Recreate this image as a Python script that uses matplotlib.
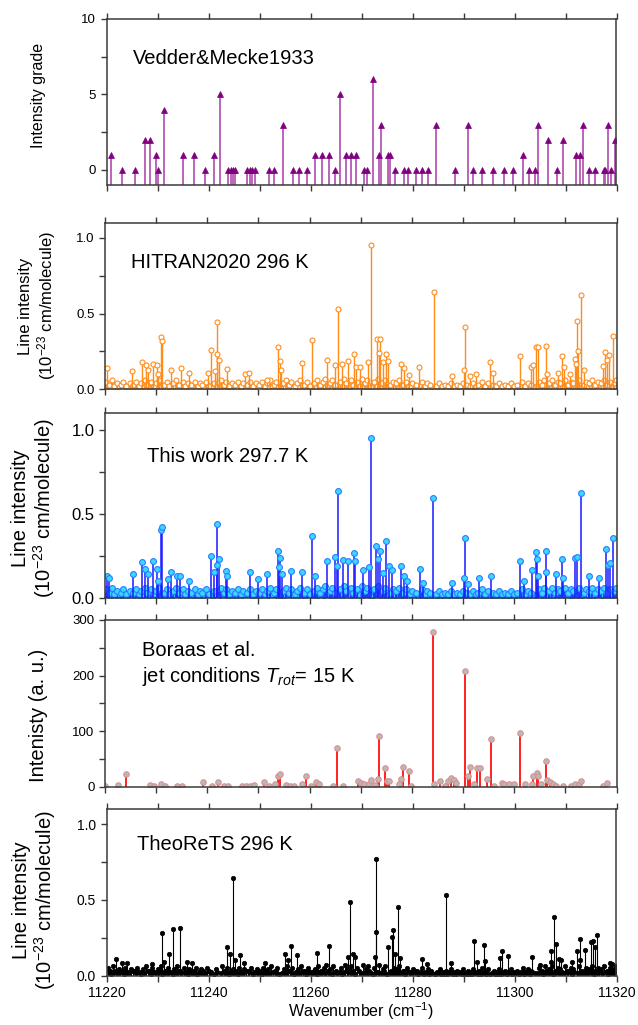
import matplotlib
matplotlib.use('Agg')
import matplotlib.pyplot as plt
from matplotlib.ticker import MultipleLocator, FormatStrFormatter

plt.rcParams['font.family'] = ['Liberation Sans', 'DejaVu Sans']
plt.rcParams['mathtext.fontset'] = 'custom'
plt.rcParams['mathtext.rm'] = 'Liberation Sans'
plt.rcParams['mathtext.it'] = 'Liberation Sans:italic'

# ---- Vedder & Mecke 1933: line positions and visual intensity grades
vm_wn = [11220.9, 11223.0, 11225.6, 11227.5, 11228.5, 11229.7, 11230.1, 11231.3,
         11235.0, 11237.2, 11239.3, 11241.1, 11242.3, 11243.9, 11244.5, 11244.9,
         11245.2, 11247.5, 11248.1, 11248.6, 11249.2, 11251.8, 11252.8, 11254.6,
         11256.6, 11257.8, 11259.3, 11260.8, 11262.2, 11263.7, 11264.9, 11265.8,
         11266.9, 11267.9, 11269.0, 11270.4, 11271.0, 11272.3, 11273.5, 11273.9,
         11275.2, 11275.6, 11276.5, 11278.3, 11279.1, 11280.6, 11281.8, 11283.1,
         11284.6, 11288.3, 11290.8, 11291.8, 11293.6, 11295.8, 11297.9, 11299.7,
         11301.6, 11302.8, 11304.0, 11304.7, 11306.5, 11308.3, 11309.5, 11312.0,
         11312.8, 11313.4, 11314.6, 11315.7, 11317.5, 11317.8, 11318.3, 11318.9,
         11319.8]
vm_grade = [1, 0, 0, 2, 2, 1, 0, 4,
            1, 1, 0, 1, 5, 0, 0, 0,
            0, 0, 0, 0, 0, 0, 0, 3,
            0, 0, 0, 1, 1, 1, 0, 5,
            1, 1, 1, 0, 0, 6, 1, 3,
            1, 1, 0, 0, 0, 0, 0, 0,
            3, 0, 3, 0, 0, 0, 0, 0,
            1, 0, 0, 3, 2, 0, 2, 1,
            1, 3, 0, 0, 0, 0, 3, 0,
            2]

# ---- weak lines common to the line lists (1e-23 cm/molecule)
weak_wn = [11220.2, 11220.7, 11221.3, 11221.8, 11222.4, 11223.1, 11223.6, 11224.2, 11224.9, 11225.5,
           11226.0, 11226.7, 11227.1, 11227.8, 11228.3, 11228.9, 11229.5, 11230.0, 11230.6, 11231.5,
           11232.1, 11232.6, 11233.3, 11233.8, 11234.4, 11235.2, 11235.7, 11236.2, 11236.9, 11237.5,
           11238.1, 11238.6, 11239.0, 11239.7, 11240.3, 11241.4, 11242.7, 11243.2, 11243.7, 11244.3,
           11244.8, 11245.4, 11246.0, 11246.6, 11247.0, 11247.7, 11248.4, 11248.9, 11249.5, 11250.1,
           11250.7, 11251.2, 11251.6, 11252.3, 11253.0, 11253.5, 11254.8, 11255.3, 11255.9, 11256.4,
           11257.1, 11257.6, 11258.1, 11258.9, 11259.5, 11260.0, 11260.9, 11261.5, 11262.0, 11262.6,
           11263.1, 11263.9, 11264.4, 11265.0, 11266.0, 11266.8, 11267.2, 11268.0, 11268.4, 11269.2,
           11270.2, 11270.8, 11271.2, 11272.5, 11273.4, 11274.2, 11274.7, 11275.8, 11276.3, 11276.9,
           11277.4, 11278.3, 11278.9, 11279.6, 11280.1, 11280.8, 11281.9, 11282.5, 11283.0, 11283.6,
           11284.8, 11285.3, 11285.9, 11286.5, 11287.0, 11287.6, 11288.2, 11288.8, 11289.4, 11289.9,
           11290.8, 11291.3, 11291.9, 11292.5, 11293.0, 11293.7, 11294.2, 11294.8, 11295.9, 11296.4,
           11297.0, 11297.6, 11298.2, 11298.7, 11299.3, 11299.9, 11300.5, 11301.6, 11302.1, 11302.7,
           11303.2, 11304.8, 11305.4, 11305.9, 11306.8, 11307.3, 11307.9, 11308.5, 11309.0, 11309.9,
           11310.5, 11311.1, 11311.5, 11312.7, 11313.6, 11314.1, 11314.7, 11315.2, 11315.8, 11316.3,
           11316.9, 11317.6, 11318.1, 11318.8, 11319.5, 11319.9]
weak_s = [0.05, 0.03, 0.06, 0.02, 0.04, 0.03, 0.05, 0.02, 0.04, 0.03,
          0.05, 0.02, 0.04, 0.06, 0.03, 0.05, 0.02, 0.04, 0.06, 0.03,
          0.05, 0.02, 0.04, 0.06, 0.03, 0.05, 0.02, 0.04, 0.03, 0.05,
          0.02, 0.04, 0.03, 0.05, 0.02, 0.04, 0.06, 0.03, 0.05, 0.02,
          0.04, 0.03, 0.05, 0.02, 0.04, 0.03, 0.05, 0.02, 0.04, 0.03,
          0.05, 0.02, 0.04, 0.06, 0.03, 0.05, 0.04, 0.06, 0.03, 0.05,
          0.02, 0.04, 0.06, 0.03, 0.05, 0.02, 0.04, 0.06, 0.03, 0.05,
          0.07, 0.04, 0.06, 0.03, 0.05, 0.07, 0.04, 0.06, 0.03, 0.05,
          0.07, 0.04, 0.06, 0.05, 0.07, 0.04, 0.06, 0.03, 0.05, 0.04,
          0.06, 0.03, 0.05, 0.02, 0.04, 0.03, 0.05, 0.02, 0.04, 0.03,
          0.02, 0.04, 0.02, 0.03, 0.02, 0.04, 0.02, 0.03, 0.02, 0.04,
          0.03, 0.02, 0.04, 0.02, 0.03, 0.05, 0.02, 0.04, 0.03, 0.02,
          0.04, 0.02, 0.03, 0.02, 0.04, 0.02, 0.03, 0.05, 0.02, 0.04,
          0.03, 0.05, 0.03, 0.06, 0.04, 0.06, 0.03, 0.05, 0.04, 0.06,
          0.03, 0.05, 0.04, 0.06, 0.03, 0.05, 0.04, 0.06, 0.03, 0.05,
          0.04, 0.06, 0.03, 0.05, 0.04, 0.06]

# ---- very weak lines filling the baseline
vweak_wn = [11220.45, 11220.95, 11221.55, 11222.1, 11222.7, 11223.35, 11223.85, 11224.5, 11225.15, 11225.75,
            11226.3, 11226.85, 11227.45, 11228.05, 11228.65, 11229.2, 11229.75, 11230.35, 11230.8, 11231.4,
            11231.85, 11232.35, 11232.95, 11233.55, 11234.1, 11234.65, 11235.45, 11235.95, 11236.6, 11237.2,
            11237.8, 11238.35, 11238.85, 11239.4, 11240.0, 11240.55, 11241.1, 11241.7, 11242.45, 11242.95,
            11243.45, 11244.05, 11244.6, 11245.15, 11245.7, 11246.3, 11246.85, 11247.4, 11248.0, 11248.65,
            11249.2, 11249.8, 11250.4, 11250.95, 11251.45, 11251.95, 11252.6, 11253.25, 11253.8, 11254.4,
            11255.05, 11255.6, 11256.15, 11256.7, 11257.35, 11257.85, 11258.45, 11259.1, 11259.75, 11260.3,
            11260.65, 11261.25, 11261.8, 11262.3, 11262.85, 11263.5, 11264.15, 11264.7, 11265.25, 11265.75,
            11266.25, 11266.6, 11267.45, 11267.85, 11268.2, 11268.75, 11269.45, 11269.95, 11270.5, 11271.0,
            11271.45, 11271.8, 11272.25, 11272.8, 11273.2, 11273.85, 11274.45, 11274.95, 11275.6, 11276.05,
            11276.6, 11277.15, 11277.65, 11278.05, 11278.6, 11279.25, 11279.85, 11280.45, 11281.1, 11281.6,
            11282.2, 11282.75, 11283.3, 11283.85, 11284.5, 11285.05, 11285.6, 11286.2, 11286.75, 11287.3,
            11287.85, 11288.5, 11289.1, 11289.65, 11290.25, 11290.55, 11291.05, 11291.6, 11292.2, 11292.75,
            11293.35, 11293.95, 11294.5, 11295.1, 11295.6, 11296.15, 11296.7, 11297.3, 11297.9, 11298.45,
            11299.0, 11299.6, 11300.2, 11300.8, 11301.35, 11301.85, 11302.4, 11302.95, 11303.45, 11304.05,
            11304.55, 11305.1, 11305.65, 11306.15, 11306.55, 11307.05, 11307.6, 11308.2, 11308.75, 11309.25,
            11309.65, 11310.2, 11310.8, 11311.3, 11311.75, 11312.45, 11312.95, 11313.35, 11313.85, 11314.4,
            11314.95, 11315.5, 11316.05, 11316.6, 11317.2, 11317.85, 11318.4, 11318.95, 11319.25, 11319.7]
vweak_s = [0.020, 0.012, 0.028, 0.015, 0.022, 0.010, 0.025, 0.018, 0.030, 0.014,
           0.024, 0.011, 0.019, 0.027, 0.013, 0.021, 0.016, 0.029, 0.012, 0.023,
           0.017, 0.026, 0.010, 0.022, 0.030, 0.015, 0.020, 0.013, 0.027, 0.018,
           0.011, 0.025, 0.019, 0.014, 0.028, 0.020, 0.012, 0.024, 0.016, 0.030,
           0.022, 0.013, 0.027, 0.018, 0.010, 0.025, 0.015, 0.029, 0.021, 0.012,
           0.026, 0.017, 0.011, 0.023, 0.030, 0.014, 0.020, 0.028, 0.012, 0.019,
           0.015, 0.027, 0.021, 0.010, 0.024, 0.018, 0.029, 0.013, 0.022, 0.016,
           0.028, 0.012, 0.020, 0.025, 0.015, 0.030, 0.011, 0.023, 0.018, 0.026,
           0.013, 0.021, 0.029, 0.016, 0.024, 0.010, 0.027, 0.019, 0.014, 0.022,
           0.030, 0.018, 0.012, 0.026, 0.020, 0.015, 0.028, 0.011, 0.023, 0.017,
           0.019, 0.025, 0.014, 0.030, 0.012, 0.022, 0.016, 0.027, 0.010, 0.021,
           0.011, 0.017, 0.009, 0.014, 0.008, 0.016, 0.010, 0.013, 0.007, 0.015,
           0.012, 0.008, 0.014, 0.010, 0.016, 0.009, 0.013, 0.011, 0.015, 0.008,
           0.010, 0.014, 0.007, 0.012, 0.016, 0.009, 0.013, 0.008, 0.015, 0.011,
           0.014, 0.009, 0.016, 0.012, 0.020, 0.011, 0.018, 0.013, 0.022, 0.015,
           0.019, 0.024, 0.013, 0.027, 0.016, 0.021, 0.012, 0.025, 0.018, 0.023,
           0.015, 0.028, 0.020, 0.012, 0.026, 0.017, 0.030, 0.014, 0.022, 0.019,
           0.025, 0.013, 0.021, 0.029, 0.016, 0.024, 0.011, 0.027, 0.018, 0.022]

# ---- HITRAN2020, stronger lines
hit_wn = [11220.4, 11225.3, 11227.3, 11228.1, 11228.5, 11229.3, 11230.2, 11230.9, 11231.2, 11230.3,
          11232.9, 11234.8, 11236.4, 11240.1, 11240.8, 11241.6, 11241.9, 11241.95, 11242.3, 11243.9,
          11247.3, 11248.2, 11251.7, 11253.9, 11254.2, 11254.5, 11258.5, 11260.5, 11263.4, 11265.0,
          11265.5, 11266.4, 11267.6, 11268.6, 11269.1, 11269.8, 11271.5, 11272.0, 11273.1, 11273.7,
          11273.5, 11274.3, 11275.0, 11275.4, 11277.8, 11278.4, 11279.4, 11281.4, 11284.3, 11287.9,
          11290.1, 11290.4, 11291.3, 11292.6, 11295.3, 11295.8, 11301.1, 11303.2, 11303.7, 11304.3,
          11304.6, 11306.3, 11306.4, 11308.5, 11309.4, 11309.7, 11311.0, 11311.8, 11312.1, 11312.3,
          11312.5, 11313.1, 11313.7, 11317.3, 11317.8, 11318.5, 11318.2, 11319.3]
hit_s = [0.14, 0.12, 0.18, 0.16, 0.13, 0.17, 0.16, 0.345, 0.32, 0.10,
         0.13, 0.14, 0.11, 0.105, 0.26, 0.12, 0.445, 0.23, 0.195, 0.135,
         0.10, 0.105, 0.06, 0.28, 0.19, 0.13, 0.175, 0.325, 0.195, 0.16,
         0.53, 0.17, 0.19, 0.23, 0.15, 0.15, 0.18, 0.95, 0.33, 0.335,
         0.24, 0.18, 0.23, 0.19, 0.165, 0.14, 0.095, 0.15, 0.64, 0.09,
         0.125, 0.41, 0.09, 0.10, 0.18, 0.105, 0.22, 0.15, 0.16, 0.28,
         0.28, 0.285, 0.10, 0.105, 0.22, 0.145, 0.10, 0.20, 0.17, 0.45,
         0.255, 0.62, 0.125, 0.155, 0.245, 0.225, 0.195, 0.35]

# ---- This work, 297.7 K, stronger lines
tw_wn = [11220.3, 11220.7, 11225.4, 11227.3, 11227.9, 11228.4, 11229.4, 11230.2, 11230.4, 11230.9,
         11231.2, 11232.4, 11232.9, 11234.1, 11234.7, 11236.4, 11240.8, 11241.4, 11241.9, 11241.95,
         11242.3, 11243.7, 11243.9, 11248.3, 11249.9, 11251.6, 11253.9, 11254.2, 11254.1, 11254.7,
         11256.4, 11258.5, 11260.5, 11261.1, 11263.4, 11265.0, 11265.3, 11265.5, 11266.5, 11267.6,
         11268.6, 11268.9, 11270.4, 11271.6, 11272.0, 11273.0, 11273.4, 11273.7, 11274.3, 11275.0,
         11275.5, 11276.1, 11277.8, 11278.4, 11279.1, 11281.5, 11282.2, 11284.2, 11287.9, 11290.3,
         11290.2, 11290.9, 11293.2, 11295.4, 11301.2, 11302.0, 11303.5, 11304.3, 11304.5, 11304.7,
         11306.2, 11306.25, 11308.2, 11309.4, 11309.6, 11311.8, 11312.3, 11313.1, 11314.6, 11316.5,
         11317.9, 11318.3, 11318.8, 11319.3]
tw_s = [0.13, 0.12, 0.14, 0.21, 0.17, 0.14, 0.22, 0.17, 0.10, 0.40,
        0.42, 0.11, 0.15, 0.13, 0.13, 0.10, 0.245, 0.15, 0.44, 0.195,
        0.23, 0.16, 0.13, 0.155, 0.11, 0.14, 0.28, 0.235, 0.18, 0.14,
        0.16, 0.15, 0.365, 0.13, 0.22, 0.24, 0.19, 0.635, 0.225, 0.22,
        0.265, 0.22, 0.165, 0.18, 0.95, 0.305, 0.23, 0.28, 0.145, 0.34,
        0.19, 0.165, 0.19, 0.13, 0.10, 0.17, 0.09, 0.59, 0.085, 0.355,
        0.12, 0.08, 0.12, 0.13, 0.22, 0.10, 0.165, 0.27, 0.23, 0.13,
        0.275, 0.155, 0.14, 0.23, 0.12, 0.235, 0.24, 0.625, 0.13, 0.12,
        0.29, 0.195, 0.205, 0.355]

# ---- Boraas et al., jet spectrum (a. u.)
bo_wn = [11220.0, 11222.6, 11224.1, 11228.7, 11229.6, 11230.9, 11231.8, 11234.0, 11235.0, 11239.2,
         11240.9, 11242.0, 11243.2, 11244.0, 11246.7, 11247.6, 11248.3, 11249.1, 11251.0, 11252.0,
         11253.3, 11253.9, 11254.2, 11255.3, 11256.1, 11257.0, 11258.5, 11259.3, 11260.3, 11261.2,
         11261.8, 11264.5, 11265.4, 11266.6, 11269.5, 11270.0, 11270.7, 11271.6, 11272.1, 11272.8,
         11273.5, 11273.4, 11274.7, 11275.2, 11275.5, 11277.4, 11277.8, 11278.3, 11279.5, 11279.8,
         11284.2, 11284.4, 11285.4, 11286.4, 11287.1, 11287.6, 11288.2, 11288.6, 11290.4, 11291.0,
         11291.4, 11292.1, 11292.7, 11293.3, 11294.7, 11295.5, 11296.1, 11297.6, 11298.1, 11298.9,
         11299.9, 11301.2, 11302.1, 11303.4, 11303.7, 11304.4, 11304.7, 11305.3, 11306.2, 11306.4,
         11307.0, 11307.6, 11308.2, 11309.6, 11311.1, 11311.9, 11312.6, 11313.1, 11317.4, 11318.1]
bo_int = [1, 3, 23, 3, 2, 4, 2, 1, 1, 8,
          2, 8, 2, 2, 2, 2, 2, 3, 9, 2,
          4, 20, 23, 3, 2, 2, 4, 20, 2, 8,
          4, 2, 69, 2, 10, 7, 5, 5, 12, 3,
          92, 13, 34, 10, 10, 4, 14, 36, 28, 2,
          279, 4, 10, 2, 10, 15, 12, 7, 208, 20,
          36, 5, 33, 33, 13, 86, 2, 6, 5, 4,
          4, 97, 5, 5, 20, 25, 19, 4, 47, 12,
          8, 4, 2, 2, 2, 4, 5, 10, 2, 6]

# ---- TheoReTS, 296 K, stronger lines
th_wn = [11221.8, 11223.0, 11224.1, 11225.7, 11228.9, 11230.9, 11231.2, 11232.3, 11233.0, 11234.4,
         11235.7, 11236.7, 11243.7, 11244.3, 11244.9, 11245.1, 11246.2, 11247.0, 11251.1, 11255.0,
         11255.6, 11256.1, 11257.3, 11261.2, 11263.7, 11267.4, 11267.8, 11268.3, 11268.7, 11272.8,
         11272.85, 11272.7, 11275.2, 11275.9, 11276.1, 11276.5, 11277.1, 11277.5, 11281.9, 11282.8,
         11286.6, 11287.6, 11292.0, 11292.6, 11294.1, 11294.15, 11297.2, 11297.6, 11298.7, 11303.4,
         11305.0, 11307.1, 11307.2, 11307.8, 11308.2, 11308.7, 11309.2, 11311.3, 11312.2, 11312.8,
         11312.85, 11313.9, 11315.0, 11315.3, 11315.7, 11316.1, 11318.7, 11319.2]
th_s = [0.11, 0.08, 0.08, 0.03, 0.075, 0.28, 0.09, 0.145, 0.305, 0.315,
        0.09, 0.08, 0.19, 0.145, 0.645, 0.10, 0.135, 0.085, 0.08, 0.145,
        0.10, 0.195, 0.135, 0.15, 0.195, 0.125, 0.485, 0.14, 0.125, 0.77,
        0.29, 0.12, 0.185, 0.255, 0.30, 0.14, 0.455, 0.115, 0.11, 0.075,
        0.53, 0.08, 0.23, 0.09, 0.20, 0.095, 0.115, 0.165, 0.13, 0.12,
        0.07, 0.165, 0.09, 0.385, 0.21, 0.11, 0.10, 0.09, 0.165, 0.24,
        0.10, 0.17, 0.22, 0.225, 0.19, 0.27, 0.085, 0.075]

W, H = 638, 1025
xmin, xmax = 11220, 11320


def rect(left, top, right, bottom):
    # pixel box -> figure fraction
    return [left / W, 1 - bottom / H, (right - left) / W, (bottom - top) / H]


def sticks(ax, wn, s, base, lc, lw, marker, ms, mfc, mec, mew=0.8):
    ax.vlines(wn, base, s, colors=lc, linewidth=lw)
    ax.plot(wn, s, ls='none', marker=marker, ms=ms, mfc=mfc, mec=mec, mew=mew)


def style(ax, ymaj, ymin, tick_fs, show_x=False):
    ax.set_xlim(xmin, xmax)
    ax.xaxis.set_major_locator(MultipleLocator(20))
    ax.xaxis.set_minor_locator(MultipleLocator(10))
    ax.yaxis.set_major_locator(MultipleLocator(ymaj))
    ax.yaxis.set_minor_locator(MultipleLocator(ymin))
    for sp in ax.spines.values():
        sp.set_color('#3a3a3a')
        sp.set_linewidth(1.1)
    ax.tick_params(which='both', direction='out', colors='#3a3a3a', labelcolor='black',
                   labelsize=tick_fs, width=1.0, length=4)
    ax.tick_params(axis='x', which='both', top=True, labeltop=False)
    if not show_x:
        ax.tick_params(axis='x', labelbottom=False)


fig = plt.figure(figsize=(W / 100, H / 100), dpi=100)

# Vedder & Mecke grades
ax1 = fig.add_axes(rect(106.5, 19, 616.5, 185))
sticks(ax1, vm_wn, vm_grade, -1, '#b45ab4', 1.3, '^', 4.5, '#800080', '#800080', 0.5)
ax1.set_ylim(-1, 10)
style(ax1, 5, 2.5, 9.5)
ax1.yaxis.set_major_formatter(FormatStrFormatter('%d'))
fig.text(133 / W, 1 - 64 / H, 'Vedder&Mecke1933', fontsize=14.5, va='baseline')
fig.text(39 / W, 1 - 95 / H, 'Intensity grade', rotation=90, ha='center', va='center',
         fontsize=11.5)

# HITRAN2020
hit_col = '#ff8c1a'
ax2 = fig.add_axes(rect(105, 222.7, 616.5, 389.3))
for wn, s in [(vweak_wn, vweak_s), (weak_wn, weak_s), (hit_wn, hit_s)]:
    sticks(ax2, wn, s, 0, hit_col, 1.0, 'o', 3.6, 'white', hit_col, 0.8)
ax2.set_ylim(0, 1.1)
style(ax2, 0.5, 0.25, 9.5)
ax2.yaxis.set_major_formatter(FormatStrFormatter('%.1f'))
fig.text(131 / W, 1 - 268.3 / H, 'HITRAN2020 296 K', fontsize=14.5, va='baseline')
fig.text(38 / W, 1 - 306 / H, 'Line intensity\n(10$^{-23}$ cm/molecule)', rotation=90,
         ha='center', va='center', fontsize=12, linespacing=1.15, multialignment='center')

# This work
ax3 = fig.add_axes(rect(105, 412.7, 616.5, 597.7))
for wn, s in [(vweak_wn, vweak_s), (weak_wn, weak_s), (tw_wn, tw_s)]:
    sticks(ax3, wn, s, 0, '#1a1aff', 1.1, 'o', 4.2, '#3ad8ff', '#2a7dff', 0.8)
ax3.set_ylim(0, 1.1)
style(ax3, 0.5, 0.25, 12)
ax3.yaxis.set_major_formatter(FormatStrFormatter('%.1f'))
fig.text(147 / W, 1 - 462.3 / H, 'This work 297.7 K', fontsize=14.5, va='baseline')
fig.text(34 / W, 1 - 508 / H, 'Line intensity\n(10$^{-23}$ cm/molecule)', rotation=90,
         ha='center', va='center', fontsize=14.5, linespacing=1.1, multialignment='center')

# Boraas et al. jet spectrum
ax4 = fig.add_axes(rect(105, 620, 616.5, 786.7))
sticks(ax4, bo_wn, bo_int, 0, '#ff2020', 1.4, 'o', 4.0, '#b8b8b8', '#e08a8a', 0.7)
ax4.set_ylim(0, 300)
style(ax4, 100, 50, 9.5)
fig.text(142 / W, 1 - 655.7 / H, 'Boraas et al.', fontsize=14.5, va='baseline')
fig.text(142 / W, 1 - 681.7 / H, 'jet conditions $T_{rot}$= 15 K', fontsize=14.5,
         va='baseline')
fig.text(39 / W, 1 - 715 / H, 'Intenisty (a. u.)', rotation=90, ha='center', va='center',
         fontsize=14.5)

# TheoReTS
ax5 = fig.add_axes(rect(106.5, 809, 616.5, 975.5))
for wn, s in [(vweak_wn, vweak_s), (weak_wn, weak_s), (th_wn, th_s)]:
    sticks(ax5, wn, s, 0, 'black', 0.8, 'o', 3.2, 'black', 'black', 0.5)
ax5.set_ylim(0, 1.1)
style(ax5, 0.5, 0.25, 10, show_x=True)
ax5.yaxis.set_major_formatter(FormatStrFormatter('%.1f'))
ax5.xaxis.set_major_formatter(FormatStrFormatter('%d'))
fig.text(137 / W, 1 - 850 / H, 'TheoReTS 296 K', fontsize=14.5, va='baseline')
fig.text(35 / W, 1 - 900 / H, 'Line intensity\n(10$^{-23}$ cm/molecule)', rotation=90,
         ha='center', va='center', fontsize=14.5, linespacing=1.1, multialignment='center')
fig.text(361 / W, 1 - 1017 / H, 'Wavenumber (cm$^{-1}$)', ha='center', va='baseline',
         fontsize=11.5)

fig.savefig('out.png', dpi=100)
